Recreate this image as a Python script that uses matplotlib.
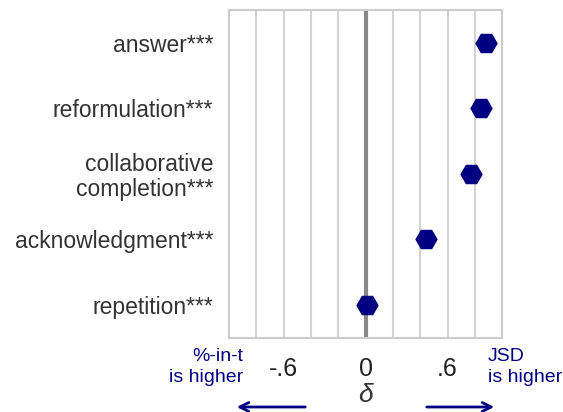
import matplotlib
matplotlib.use("Agg")
from matplotlib import pyplot as plt
from matplotlib.patches import FancyArrowPatch

plt.rcParams['font.family'] = ['Liberation Sans', 'DejaVu Sans']

categories = ["answer***", "reformulation***", "collaborative\ncompletion***",
              "acknowledgment***", "repetition***"]
deltas = [0.88, 0.846, 0.77, 0.443, 0.01]
tick_values = [-0.6, 0, 0.6]
tick_labels = ["-.6", "0", ".6"]
grid_values = [-0.8, -0.6, -0.4, -0.2, 0.2, 0.4, 0.6, 0.8]

navy = "#000080"
fig = plt.figure(figsize=(5.63, 4.12), dpi=100)
ax = fig.add_axes([0.407, 0.180, 0.485, 0.796])

for g in grid_values:
    ax.axvline(g, color="#d3d3d3", lw=1.5, zorder=0)
ax.axvline(0, color="#888888", lw=3, zorder=1)

ypos = list(range(len(categories)))
ax.plot(deltas, ypos, linestyle="none", marker="H", markersize=15,
        color=navy, zorder=3)

ax.set_xlim(-1, 1)
ax.set_ylim(len(categories) - 0.5, -0.5)
ax.set_yticks(ypos)
ax.set_yticklabels(categories, fontsize=16.5, color="#333333", linespacing=1.1)
ax.set_xticks(tick_values)
ax.set_xticklabels(tick_labels, fontsize=18, color="#222222")
ax.tick_params(length=0)
ax.tick_params(axis="y", pad=11.5)
ax.tick_params(axis="x", pad=14)
for s in ax.spines.values():
    s.set_color("#cccccc")
    s.set_linewidth(1.5)

ax.set_xlabel("δ", fontsize=19, style="italic", color="#333333", labelpad=1)

fig.text(243 / 563, 1 - 367 / 412, "%-in-t\nis higher", ha="right", va="center",
         fontsize=14, color=navy, linespacing=1.25)
fig.text(488 / 563, 1 - 367 / 412, "JSD\nis higher", ha="left", va="center",
         fontsize=14, color=navy, linespacing=1.25)
for x0, x1 in [(308, 234), (424, 497)]:
    fig.patches.append(FancyArrowPatch(
        (x0 / 563, 1 - 407 / 412), (x1 / 563, 1 - 407 / 412),
        transform=fig.transFigure, arrowstyle="->", mutation_scale=16,
        color=navy, lw=2))

fig.savefig("out.png", dpi=100)
